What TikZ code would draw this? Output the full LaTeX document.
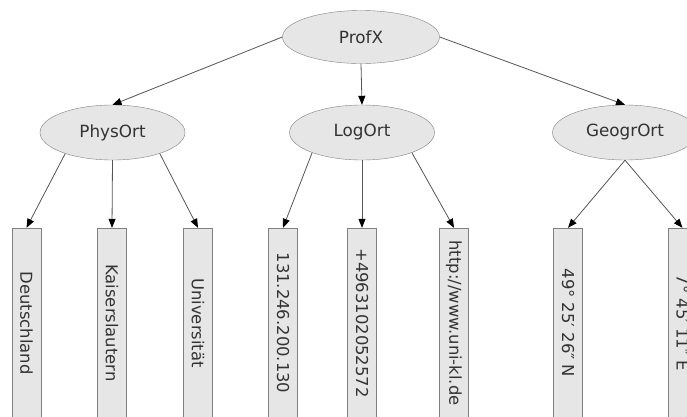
\documentclass[tikz,border=0pt]{standalone}
\usepackage{fontspec}
\setmainfont{DejaVu Sans}
\usetikzlibrary{shapes.geometric,arrows.meta}
\definecolor{nodefill}{HTML}{E6E6E6}
\definecolor{nodeline}{HTML}{808080}
\definecolor{txt}{HTML}{333333}
\definecolor{edgecol}{HTML}{555555}
\begin{document}
\begin{tikzpicture}[x=1pt,y=-1pt,
  ell/.style={ellipse, draw=nodeline, fill=nodefill, text=txt, inner sep=0pt,
    minimum width=145pt, minimum height=55pt, font=\fontsize{16.8}{20}\selectfont},
  leaf/.style={rectangle, draw=nodeline, fill=nodefill, text=txt, rotate=-90,
    minimum width=190pt, minimum height=29pt, inner sep=0pt, font=\fontsize{16.4}{20}\selectfont},
  conn/.style={draw=edgecol, line width=0.8pt, -{Triangle[length=9pt,width=7pt,color=black]}}]
\useasboundingbox (0,0) rectangle (687,416);
\clip (0,0) rectangle (687,416);
\node[ell, minimum width=157pt, minimum height=53pt] (profx) at (361,37) {ProfX};
\node[ell] (physort) at (112.5,132.5) {PhysOrt};
\node[ell] (logort) at (362,132.5) {LogOrt};
\node[ell] (geogrort) at (625,132.5) {GeogrOrt};
\node[leaf] (d) at (26.5,323) {Deutschland};
\node[leaf] (k) at (112,323) {Kaiserslautern};
\node[leaf] (u) at (198,323) {Universität};
\node[leaf] (ip) at (283,323) {131.246.200.130};
\node[leaf] (tel) at (362,323) {+4963102052572};
\node[leaf] (url) at (454,323) {http://www.uni-kl.de};
\node[leaf] (lat) at (568,323) {49° 25′ 26″ N};
\node[leaf] (lon) at (682.5,323) {7° 45′ 11″ E};
\draw[conn] (profx.west) -- (physort.north);
\draw[conn] (profx.south) -- (logort.north);
\draw[conn] (profx.east) -- (geogrort.north);
\draw[conn] (physort.204) -- (d.west);
\draw[conn] (physort.south) -- (k.west);
\draw[conn] (physort.336) -- (u.west);
\draw[conn] (logort.202) -- (ip.west);
\draw[conn] (logort.south) -- (tel.west);
\draw[conn] (logort.338) -- (url.west);
\draw[conn] (geogrort.south) -- (lat.west);
\draw[conn] (geogrort.south) -- (lon.west);
\end{tikzpicture}
\end{document}
